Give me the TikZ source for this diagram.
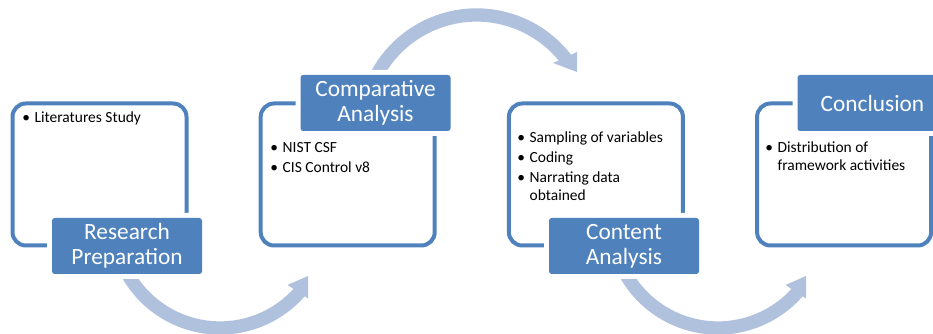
\documentclass[tikz,border=0pt]{standalone}
\usepackage{fontspec}
\setmainfont{Carlito}
\usetikzlibrary{calc}
\definecolor{accent}{HTML}{4F81BD}
\definecolor{arcblue}{HTML}{B0C1DE}
\begin{document}
\begin{tikzpicture}[x=0.75pt,y=-0.75pt,
  framebox/.style={draw=accent, line width=3pt, rounded corners=10pt, minimum width=130.5pt, minimum height=106.5pt, inner sep=0pt},
  labelbox/.style={fill=accent, preaction={draw=white, line width=7.5pt}, rounded corners=2pt, minimum width=112.5pt, minimum height=42pt, inner sep=0pt, text=white, align=center, font=\fontsize{17.5}{18.75}\selectfont},
  bullets/.style={anchor=base west, inner sep=0pt, font=\fontsize{11.6}{13.5}\selectfont},
  flowarc/.style={draw=arcblue, line width=10pt},
  flowhead/.style={fill=arcblue}]
\useasboundingbox (0,0) rectangle (933,334);
\clip (0,0) rectangle (933,334);

% curved flow arrows
\coordinate (c1) at (220,222);
\coordinate (c2) at (476.5,128);
\coordinate (c3) at (718,222);
\draw[flowarc] ($(c1)+(160:106)$) arc[start angle=160, end angle=40, radius=106];
\fill[flowhead] (308,276) -- (308,298.5) -- (287.5,285) -- cycle;
\draw[flowarc] ($(c2)+(200:113)$) arc[start angle=200, end angle=323, radius=113];
\fill[flowhead] (577,72) -- (577,52) -- (553,63) -- cycle;
\draw[flowarc] ($(c3)+(160:106)$) arc[start angle=160, end angle=40, radius=106];
\fill[flowhead] (806,276) -- (806,298.5) -- (785.5,285) -- cycle;

% outline boxes
\node[framebox] (f1) at (99.5,174.5) {};
\node[framebox] (f2) at (347.7,174.5) {};
\node[framebox] (f3) at (595.9,174.5) {};
\node[framebox] (f4) at (844.1,174.5) {};

% bullet texts
\node[bullets] (t1) at (22,123) {\begin{tabular}[t]{@{}l@{\hspace{3.5pt}}l@{}}\textbullet & Literatures Study\end{tabular}};
\node[bullets] (t2) at (270,153) {\begin{tabular}[t]{@{}l@{\hspace{3.5pt}}l@{}}\textbullet & NIST CSF\\[1.5pt] \textbullet & CIS Control v8\end{tabular}};
\node[bullets] (t3) at (517,143) {\begin{tabular}[t]{@{}l@{\hspace{3.5pt}}l@{}}\textbullet & Sampling of variables\\[1.5pt] \textbullet & Coding\\[1.5pt] \textbullet & Narrating data\\ & obtained\end{tabular}};
\node[bullets] (t4) at (765,153) {\begin{tabular}[t]{@{}l@{\hspace{3.5pt}}l@{}}\textbullet & Distribution of\\ & framework activities\end{tabular}};

% labels
\node[labelbox] (l1) at (127,246) {Research\\Preparation};
\node[labelbox] (l2) at (375.5,103) {Comparative\\Analysis};
\node[labelbox] (l3) at (624,246) {Content\\Analysis};
\node[labelbox] (l4) at (872.5,103) {Conclusion};
\end{tikzpicture}
\end{document}
